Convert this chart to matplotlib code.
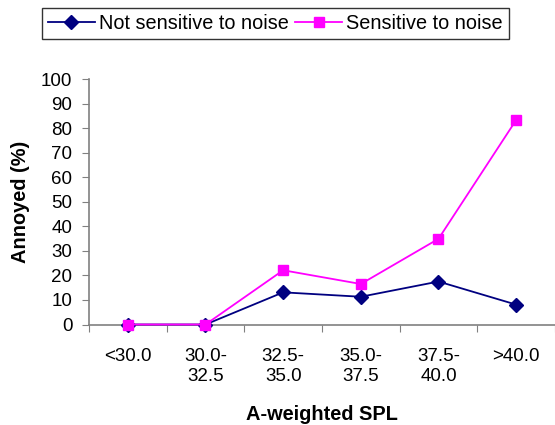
import numpy as np
import matplotlib.pyplot as plt

# annoyance by noise level band
categories = ["<30.0", "30.0-\n32.5", "32.5-\n35.0", "35.0-\n37.5", "37.5-\n40.0", ">40.0"]
not_sensitive = [0, 0, 13.1, 11.3, 17.5, 8.1]
sensitive = [0, 0, 22.1, 16.5, 34.9, 83.3]
y_ticks = list(range(0, 101, 10))

plt.rcParams['font.family'] = ['Liberation Sans', 'DejaVu Sans']

W, H = 555, 425
fig = plt.figure(figsize=(W / 100, H / 100), dpi=100)
ax = fig.add_axes([89 / W, 1 - 324.5 / H, 1 - 89 / W, (324.5 - 79) / H])

x = np.arange(len(categories))
ax.plot(x, not_sensitive, color="#000080", marker="D", markersize=7,
        linewidth=1.3, label="Not sensitive to noise", clip_on=False, zorder=3)
ax.plot(x, sensitive, color="#FF00FF", marker="s", markersize=7,
        linewidth=1.3, label="Sensitive to noise", clip_on=False, zorder=4)

ax.set_xlim(-0.5, len(categories) - 0.5)
ax.set_ylim(0, 100)
ax.set_yticks(y_ticks)

# tick marks sit between categories, labels sit at the category centres
ax.set_xticks(np.arange(len(categories) + 1) - 0.5)
ax.set_xticklabels([])
ax.set_xticks(x, minor=True)
ax.set_xticklabels(categories, minor=True, linespacing=1.25)
ax.tick_params(axis="x", which="major", direction="out", length=5, color="#808080")
ax.tick_params(axis="x", which="minor", length=0, pad=17, labelsize=13.5)
ax.tick_params(axis="y", direction="out", length=5, pad=7, color="#808080", labelsize=13.5)

for side in ["top", "right"]:
    ax.spines[side].set_visible(False)
for side in ["left", "bottom"]:
    ax.spines[side].set_color("#808080")
    ax.spines[side].set_linewidth(1.2)

fig.text(21 / W, 1 - 201.5 / H, "Annoyed (%)", fontsize=14.4, fontweight="bold",
         rotation=90, ha="center", va="center")
fig.text(322 / W, 1 - 424 / H, "A-weighted SPL", fontsize=14.4, fontweight="bold",
         ha="center", va="bottom")

fig.legend(loc="upper left", bbox_to_anchor=(42 / W, 1 - 8 / H), ncol=2,
           fontsize=14.3, frameon=True, fancybox=False, edgecolor="black",
           handlelength=2.35, handletextpad=0.2, columnspacing=0.35,
           borderpad=0.3, borderaxespad=0)

fig.savefig("out.png", dpi=100)
